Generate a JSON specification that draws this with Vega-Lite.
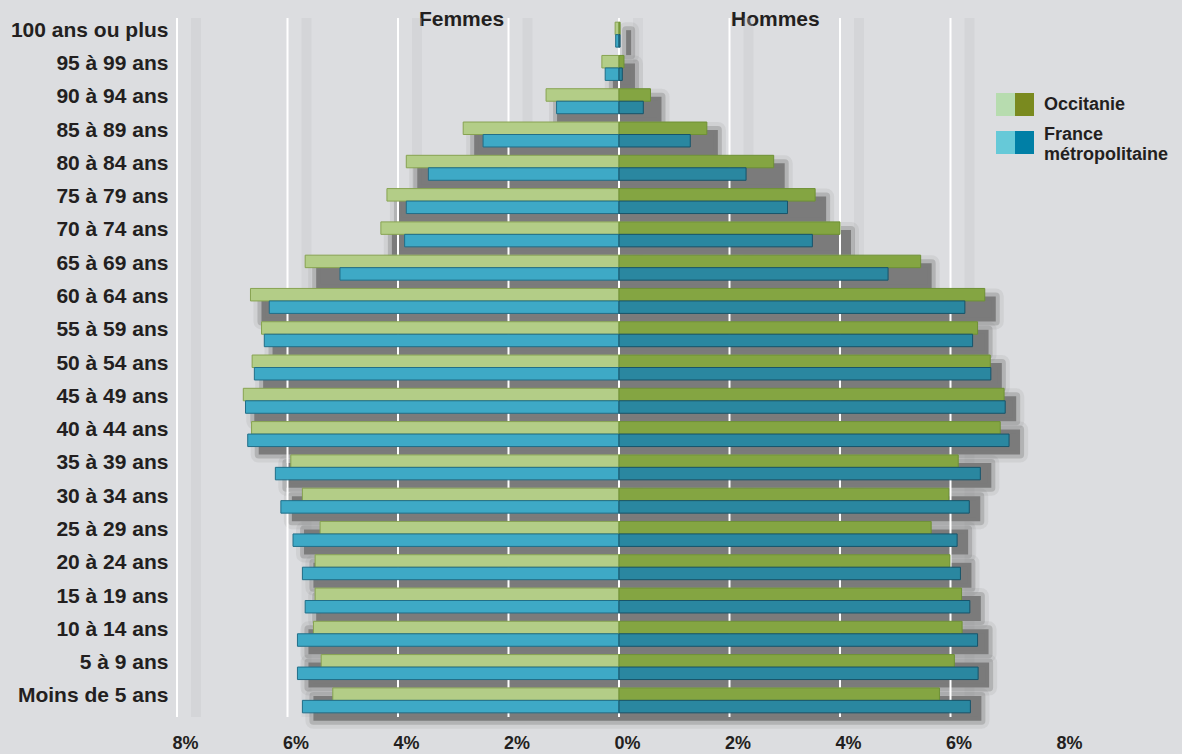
{
  "$schema": "https://vega.github.io/schema/vega-lite/v6.json",
  "width": 884,
  "height": 699,
  "autosize": {"type": "none"},
  "padding": {"left": 177, "top": 18, "right": 121, "bottom": 37},
  "background": "#dcdde0",
  "config": {
    "view": {"stroke": null},
    "font": "Liberation Sans",
    "axis": {"labelFont": "Liberation Sans", "labelColor": "#231f20", "labelFontWeight": "bold"},
    "legend": {"labelFont": "Liberation Sans"}
  },
  "datasets": {
    "grid": [{"g": -8}, {"g": -6}, {"g": -4}, {"g": -2}, {"g": 0}, {"g": 2}, {"g": 4}, {"g": 6}],
    "pop": [
      {"age": "100 ans ou plus", "sexe": "Femmes", "region": "Occitanie", "value": -0.07},
      {"age": "100 ans ou plus", "sexe": "Femmes", "region": "France métropolitaine", "value": -0.06},
      {"age": "100 ans ou plus", "sexe": "Hommes", "region": "Occitanie", "value": 0.02},
      {"age": "100 ans ou plus", "sexe": "Hommes", "region": "France métropolitaine", "value": 0.02},
      {"age": "95 à 99 ans", "sexe": "Femmes", "region": "Occitanie", "value": -0.31},
      {"age": "95 à 99 ans", "sexe": "Femmes", "region": "France métropolitaine", "value": -0.25},
      {"age": "95 à 99 ans", "sexe": "Hommes", "region": "Occitanie", "value": 0.09},
      {"age": "95 à 99 ans", "sexe": "Hommes", "region": "France métropolitaine", "value": 0.06},
      {"age": "90 à 94 ans", "sexe": "Femmes", "region": "Occitanie", "value": -1.32},
      {"age": "90 à 94 ans", "sexe": "Femmes", "region": "France métropolitaine", "value": -1.13},
      {"age": "90 à 94 ans", "sexe": "Hommes", "region": "Occitanie", "value": 0.57},
      {"age": "90 à 94 ans", "sexe": "Hommes", "region": "France métropolitaine", "value": 0.44},
      {"age": "85 à 89 ans", "sexe": "Femmes", "region": "Occitanie", "value": -2.82},
      {"age": "85 à 89 ans", "sexe": "Femmes", "region": "France métropolitaine", "value": -2.46},
      {"age": "85 à 89 ans", "sexe": "Hommes", "region": "Occitanie", "value": 1.59},
      {"age": "85 à 89 ans", "sexe": "Hommes", "region": "France métropolitaine", "value": 1.29},
      {"age": "80 à 84 ans", "sexe": "Femmes", "region": "Occitanie", "value": -3.85},
      {"age": "80 à 84 ans", "sexe": "Femmes", "region": "France métropolitaine", "value": -3.45},
      {"age": "80 à 84 ans", "sexe": "Hommes", "region": "Occitanie", "value": 2.80},
      {"age": "80 à 84 ans", "sexe": "Hommes", "region": "France métropolitaine", "value": 2.30},
      {"age": "75 à 79 ans", "sexe": "Femmes", "region": "Occitanie", "value": -4.20},
      {"age": "75 à 79 ans", "sexe": "Femmes", "region": "France métropolitaine", "value": -3.85},
      {"age": "75 à 79 ans", "sexe": "Hommes", "region": "Occitanie", "value": 3.55},
      {"age": "75 à 79 ans", "sexe": "Hommes", "region": "France métropolitaine", "value": 3.05},
      {"age": "70 à 74 ans", "sexe": "Femmes", "region": "Occitanie", "value": -4.31},
      {"age": "70 à 74 ans", "sexe": "Femmes", "region": "France métropolitaine", "value": -3.88},
      {"age": "70 à 74 ans", "sexe": "Hommes", "region": "Occitanie", "value": 4.00},
      {"age": "70 à 74 ans", "sexe": "Hommes", "region": "France métropolitaine", "value": 3.50},
      {"age": "65 à 69 ans", "sexe": "Femmes", "region": "Occitanie", "value": -5.68},
      {"age": "65 à 69 ans", "sexe": "Femmes", "region": "France métropolitaine", "value": -5.05},
      {"age": "65 à 69 ans", "sexe": "Hommes", "region": "Occitanie", "value": 5.46},
      {"age": "65 à 69 ans", "sexe": "Hommes", "region": "France métropolitaine", "value": 4.87},
      {"age": "60 à 64 ans", "sexe": "Femmes", "region": "Occitanie", "value": -6.67},
      {"age": "60 à 64 ans", "sexe": "Femmes", "region": "France métropolitaine", "value": -6.33},
      {"age": "60 à 64 ans", "sexe": "Hommes", "region": "Occitanie", "value": 6.62},
      {"age": "60 à 64 ans", "sexe": "Hommes", "region": "France métropolitaine", "value": 6.26},
      {"age": "55 à 59 ans", "sexe": "Femmes", "region": "Occitanie", "value": -6.47},
      {"age": "55 à 59 ans", "sexe": "Femmes", "region": "France métropolitaine", "value": -6.42},
      {"age": "55 à 59 ans", "sexe": "Hommes", "region": "Occitanie", "value": 6.49},
      {"age": "55 à 59 ans", "sexe": "Hommes", "region": "France métropolitaine", "value": 6.40},
      {"age": "50 à 54 ans", "sexe": "Femmes", "region": "Occitanie", "value": -6.64},
      {"age": "50 à 54 ans", "sexe": "Femmes", "region": "France métropolitaine", "value": -6.60},
      {"age": "50 à 54 ans", "sexe": "Hommes", "region": "Occitanie", "value": 6.72},
      {"age": "50 à 54 ans", "sexe": "Hommes", "region": "France métropolitaine", "value": 6.73},
      {"age": "45 à 49 ans", "sexe": "Femmes", "region": "Occitanie", "value": -6.80},
      {"age": "45 à 49 ans", "sexe": "Femmes", "region": "France métropolitaine", "value": -6.76},
      {"age": "45 à 49 ans", "sexe": "Hommes", "region": "Occitanie", "value": 6.97},
      {"age": "45 à 49 ans", "sexe": "Hommes", "region": "France métropolitaine", "value": 6.99},
      {"age": "40 à 44 ans", "sexe": "Femmes", "region": "Occitanie", "value": -6.65},
      {"age": "40 à 44 ans", "sexe": "Femmes", "region": "France métropolitaine", "value": -6.72},
      {"age": "40 à 44 ans", "sexe": "Hommes", "region": "Occitanie", "value": 6.90},
      {"age": "40 à 44 ans", "sexe": "Hommes", "region": "France métropolitaine", "value": 7.06},
      {"age": "35 à 39 ans", "sexe": "Femmes", "region": "Occitanie", "value": -5.94},
      {"age": "35 à 39 ans", "sexe": "Femmes", "region": "France métropolitaine", "value": -6.22},
      {"age": "35 à 39 ans", "sexe": "Hommes", "region": "Occitanie", "value": 6.14},
      {"age": "35 à 39 ans", "sexe": "Hommes", "region": "France métropolitaine", "value": 6.54},
      {"age": "30 à 34 ans", "sexe": "Femmes", "region": "Occitanie", "value": -5.73},
      {"age": "30 à 34 ans", "sexe": "Femmes", "region": "France métropolitaine", "value": -6.12},
      {"age": "30 à 34 ans", "sexe": "Hommes", "region": "Occitanie", "value": 5.97},
      {"age": "30 à 34 ans", "sexe": "Hommes", "region": "France métropolitaine", "value": 6.34},
      {"age": "25 à 29 ans", "sexe": "Femmes", "region": "Occitanie", "value": -5.41},
      {"age": "25 à 29 ans", "sexe": "Femmes", "region": "France métropolitaine", "value": -5.90},
      {"age": "25 à 29 ans", "sexe": "Hommes", "region": "Occitanie", "value": 5.65},
      {"age": "25 à 29 ans", "sexe": "Hommes", "region": "France métropolitaine", "value": 6.12},
      {"age": "20 à 24 ans", "sexe": "Femmes", "region": "Occitanie", "value": -5.50},
      {"age": "20 à 24 ans", "sexe": "Femmes", "region": "France métropolitaine", "value": -5.73},
      {"age": "20 à 24 ans", "sexe": "Hommes", "region": "Occitanie", "value": 5.99},
      {"age": "20 à 24 ans", "sexe": "Hommes", "region": "France métropolitaine", "value": 6.18},
      {"age": "15 à 19 ans", "sexe": "Femmes", "region": "Occitanie", "value": -5.50},
      {"age": "15 à 19 ans", "sexe": "Femmes", "region": "France métropolitaine", "value": -5.68},
      {"age": "15 à 19 ans", "sexe": "Hommes", "region": "Occitanie", "value": 6.20},
      {"age": "15 à 19 ans", "sexe": "Hommes", "region": "France métropolitaine", "value": 6.35},
      {"age": "10 à 14 ans", "sexe": "Femmes", "region": "Occitanie", "value": -5.53},
      {"age": "10 à 14 ans", "sexe": "Femmes", "region": "France métropolitaine", "value": -5.82},
      {"age": "10 à 14 ans", "sexe": "Hommes", "region": "Occitanie", "value": 6.21},
      {"age": "10 à 14 ans", "sexe": "Hommes", "region": "France métropolitaine", "value": 6.49},
      {"age": "5 à 9 ans", "sexe": "Femmes", "region": "Occitanie", "value": -5.39},
      {"age": "5 à 9 ans", "sexe": "Femmes", "region": "France métropolitaine", "value": -5.82},
      {"age": "5 à 9 ans", "sexe": "Hommes", "region": "Occitanie", "value": 6.07},
      {"age": "5 à 9 ans", "sexe": "Hommes", "region": "France métropolitaine", "value": 6.50},
      {"age": "Moins de 5 ans", "sexe": "Femmes", "region": "Occitanie", "value": -5.18},
      {"age": "Moins de 5 ans", "sexe": "Femmes", "region": "France métropolitaine", "value": -5.73},
      {"age": "Moins de 5 ans", "sexe": "Hommes", "region": "Occitanie", "value": 5.80},
      {"age": "Moins de 5 ans", "sexe": "Hommes", "region": "France métropolitaine", "value": 6.36}
    ]
  },
  "layer": [
    {
      "layer": [
        {
          "data": {"name": "grid"},
          "mark": {"type": "rule", "color": "#c2c3c6", "strokeWidth": 10, "opacity": 0.3, "xOffset": 19},
          "encoding": {
            "x": {
              "field": "g", "type": "quantitative",
              "scale": {"domain": [-8, 8], "nice": false, "zero": false},
              "axis": {
                "values": [-8, -6, -4, -2, 0, 2, 4, 6, 8],
                "labelExpr": "abs(datum.value) + '%'",
                "labelFontSize": 18, "labelFontWeight": "bold", "labelColor": "#231f20",
                "labelPadding": 17, "labelOffset": 8,
                "domain": false, "ticks": false, "grid": false, "title": null,
                "labelFlush": false, "labelOverlap": false
              }
            }
          }
        },
        {
          "data": {"name": "pop"},
          "transform": [{"aggregate": [{"op": "min", "field": "value", "as": "lo"}, {"op": "max", "field": "value", "as": "hi"}], "groupby": ["age"]}],
          "mark": {"type": "bar", "fill": "#7b7b7b", "fillOpacity": 0, "stroke": "#7b7b7b", "strokeWidth": 16, "strokeOpacity": 0.12, "strokeJoin": "round", "xOffset": 11, "x2Offset": 11, "yOffset": 8, "y2Offset": 8},
          "encoding": {
            "x": {"field": "lo", "type": "quantitative"},
            "x2": {"field": "hi"},
            "y": {
              "field": "age", "type": "nominal",
              "scale": {"domain": ["100 ans ou plus", "95 à 99 ans", "90 à 94 ans", "85 à 89 ans", "80 à 84 ans", "75 à 79 ans", "70 à 74 ans", "65 à 69 ans", "60 à 64 ans", "55 à 59 ans", "50 à 54 ans", "45 à 49 ans", "40 à 44 ans", "35 à 39 ans", "30 à 34 ans", "25 à 29 ans", "20 à 24 ans", "15 à 19 ans", "10 à 14 ans", "5 à 9 ans", "Moins de 5 ans"], "paddingInner": 0.25, "paddingOuter": 0.125},
              "axis": {"title": null, "labelFontSize": 21, "labelFontWeight": "bold", "labelColor": "#231f20", "labelPadding": 9, "labelOffset": -4, "domain": false, "ticks": false, "grid": false, "labelLimit": 300}
            }
          }
        },
        {
          "data": {"name": "pop"},
          "transform": [{"aggregate": [{"op": "min", "field": "value", "as": "lo"}, {"op": "max", "field": "value", "as": "hi"}], "groupby": ["age"]}],
          "mark": {"type": "bar", "fill": "#7b7b7b", "stroke": "#7b7b7b", "strokeWidth": 8, "strokeOpacity": 0.35, "strokeJoin": "round", "xOffset": 11, "x2Offset": 11, "yOffset": 8, "y2Offset": 8},
          "encoding": {
            "x": {"field": "lo", "type": "quantitative"},
            "x2": {"field": "hi"},
            "y": {"field": "age", "type": "nominal"}
          }
        },
        {
          "data": {"name": "grid"},
          "mark": {"type": "rule", "color": "#ffffff", "strokeWidth": 2},
          "encoding": {"x": {"field": "g", "type": "quantitative"}}
        },
        {
          "data": {"name": "pop"},
          "transform": [{"filter": "datum.sexe == 'Femmes' && datum.region == 'Occitanie'"}],
          "mark": {"type": "bar", "fill": "#b3cd87", "stroke": "#87a351", "strokeWidth": 1},
          "encoding": {
            "x": {"field": "value", "type": "quantitative"},
            "y": {"field": "age", "type": "nominal"},
            "yOffset": {"field": "region", "type": "nominal", "scale": {"domain": ["Occitanie", "France métropolitaine"]}}
          }
        },
        {
          "data": {"name": "pop"},
          "transform": [{"filter": "datum.sexe == 'Femmes' && datum.region == 'France métropolitaine'"}],
          "mark": {"type": "bar", "fill": "#3ea9c6", "stroke": "#216e88", "strokeWidth": 1},
          "encoding": {
            "x": {"field": "value", "type": "quantitative"},
            "y": {"field": "age", "type": "nominal"},
            "yOffset": {"field": "region", "type": "nominal"}
          }
        },
        {
          "data": {"name": "pop"},
          "transform": [{"filter": "datum.sexe == 'Hommes' && datum.region == 'Occitanie'"}],
          "mark": {"type": "bar", "fill": "#84a542", "stroke": "#6e9135", "strokeWidth": 1},
          "encoding": {
            "x": {"field": "value", "type": "quantitative"},
            "y": {"field": "age", "type": "nominal"},
            "yOffset": {"field": "region", "type": "nominal"}
          }
        },
        {
          "data": {"name": "pop"},
          "transform": [{"filter": "datum.sexe == 'Hommes' && datum.region == 'France métropolitaine'"}],
          "mark": {"type": "bar", "fill": "#2a87a0", "stroke": "#17546a", "strokeWidth": 1},
          "encoding": {
            "x": {"field": "value", "type": "quantitative"},
            "y": {"field": "age", "type": "nominal"},
            "yOffset": {"field": "region", "type": "nominal"}
          }
        },
        {
          "data": {"name": "pop"},
          "mark": {"type": "square", "opacity": 0},
          "encoding": {
            "x": {"field": "value", "type": "quantitative"},
            "y": {"field": "age", "type": "nominal"},
            "fill": {
              "field": "region", "type": "nominal",
              "scale": {"domain": ["Occitanie", "France métropolitaine"], "range": ["#b7dcaf", "#66c9d8"]},
              "legend": {
                "orient": "none", "legendX": 817, "legendY": 75, "title": null, "padding": 0,
                "symbolType": "M-0.826,-1H0.826V1H-0.826Z", "symbolSize": 529, "symbolOpacity": 1, "symbolStrokeWidth": 0,
                "labelExpr": "datum.label == 'France métropolitaine' ? [' ', ' '] : ' '",
                "labelFontSize": 18, "labelFontWeight": "bold", "labelColor": "#231f20",
                "labelOffset": 8, "labelLimit": 300, "rowPadding": 15
              }
            }
          }
        },
        {
          "data": {"name": "pop"},
          "mark": {"type": "square", "opacity": 0},
          "encoding": {
            "x": {"field": "value", "type": "quantitative"},
            "y": {"field": "age", "type": "nominal"},
            "color": {
              "field": "region", "type": "nominal",
              "sort": ["Occitanie", "France métropolitaine"],
              "scale": {"range": ["#7a8a1f", "#007fa6"]},
              "legend": {
                "orient": "none", "legendX": 836, "legendY": 75, "title": null, "padding": 0,
                "symbolType": "M-0.826,-1H0.826V1H-0.826Z", "symbolSize": 529, "symbolOpacity": 1, "symbolStrokeWidth": 0,
                "labelExpr": "datum.label == 'France métropolitaine' ? [' ', ' '] : ' '",
                "labelFontSize": 18, "labelFontWeight": "bold", "labelColor": "#231f20",
                "labelOffset": 8, "labelLimit": 300, "rowPadding": 15
              }
            }
          }
        },
        {
          "data": {"name": "pop"},
          "mark": {"type": "point", "opacity": 0},
          "encoding": {
            "x": {"field": "value", "type": "quantitative"},
            "y": {"field": "age", "type": "nominal"},
            "shape": {
              "field": "region", "type": "nominal",
              "sort": "descending",
              "legend": {
                "orient": "none", "legendX": 836, "legendY": 75, "title": null, "padding": 0,
                "symbolType": "M-0.826,-1H0.826V1H-0.826Z", "symbolSize": 529, "symbolOpacity": 0, "symbolStrokeWidth": 0,
                "labelExpr": "datum.label == 'France métropolitaine' ? ['France', 'métropolitaine'] : datum.label",
                "labelFontSize": 18, "labelFontWeight": "bold", "labelColor": "#231f20",
                "labelOffset": 8, "labelLimit": 300, "rowPadding": 7
              }
            }
          }
        }
      ]
    },
    {
      "data": {"name": "grid"},
      "mark": {"type": "rule", "opacity": 0},
      "encoding": {
        "x": {
          "field": "g", "type": "quantitative",
          "axis": {
            "orient": "top", "values": [-2.86, 2.82],
            "labelExpr": "datum.value < 0 ? 'Femmes' : 'Hommes'",
            "labelFontSize": 21, "labelFontWeight": "bold", "labelColor": "#231f20",
            "labelBaseline": "alphabetic", "labelPadding": -7,
            "domain": false, "ticks": false, "grid": false, "title": null,
            "labelFlush": false, "labelOverlap": false
          }
        }
      }
    }
  ],
  "resolve": {"axis": {"x": "independent"}}
}
